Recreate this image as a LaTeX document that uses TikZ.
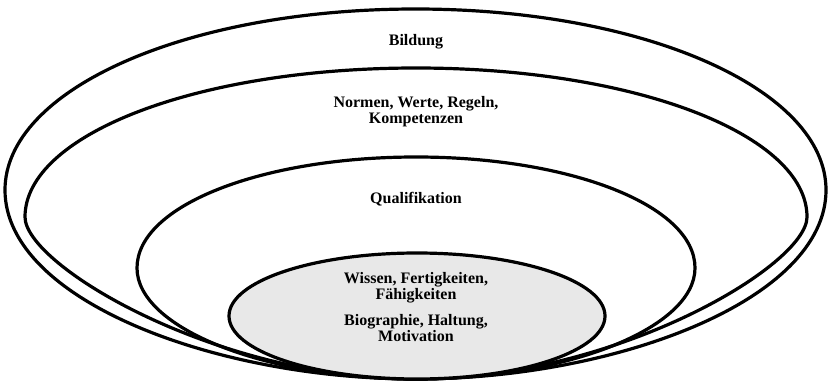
\documentclass[tikz,border=0pt]{standalone}
\usepackage{fontspec}
\setmainfont{Liberation Serif}
\definecolor{innergray}{HTML}{E8E8E8}
\tikzset{
  ring/.style={draw=black, line width=3.2pt, line join=round},
  core/.style={draw=black, line width=3.2pt, fill=innergray},
  lbl/.style={anchor=base, inner sep=0pt, font=\fontsize{16}{16}\selectfont\bfseries}
}
\begin{document}
\begin{tikzpicture}[x=1pt,y=-1pt]
\useasboundingbox[fill=white] (0,0) rectangle (829,382);
% outer shape
\draw[ring] (415.5,379) .. controls (215,379) and (5,300) .. (5,190)
  .. controls (5,90) and (185,9) .. (415.5,9)
  .. controls (646,9) and (826,90) .. (826,190)
  .. controls (826,300) and (616,379) .. (415.5,379) -- cycle;
% second shape
\draw[ring] (416,379) .. controls (215,379) and (25,265) .. (25,217)
  .. controls (25,135) and (196,68) .. (416,68)
  .. controls (636,68) and (807,135) .. (807,217)
  .. controls (807,265) and (617,379) .. (416,379) -- cycle;
% third shape
\draw[ring] (416,379) .. controls (265,379) and (137,328) .. (137,268)
  .. controls (137,205) and (263,157) .. (416,157)
  .. controls (569,157) and (695,205) .. (695,268)
  .. controls (695,328) and (567,379) .. (416,379) -- cycle;
% inner core
\draw[core] (417,316) ellipse [x radius=188, y radius=63];
% labels
\node[lbl] (bildung) at (416,46) {Bildung};
\node[lbl] (normen1) at (416,108) {Normen, Werte, Regeln,};
\node[lbl] (normen2) at (416,124) {Kompetenzen};
\node[lbl] (quali) at (416,204) {Qualifikation};
\node[lbl] (wissen1) at (416,283) {Wissen, Fertigkeiten,};
\node[lbl] (wissen2) at (416,299) {Fähigkeiten};
\node[lbl] (bio1) at (416,325) {Biographie, Haltung,};
\node[lbl] (bio2) at (416,341) {Motivation};
\end{tikzpicture}
\end{document}
